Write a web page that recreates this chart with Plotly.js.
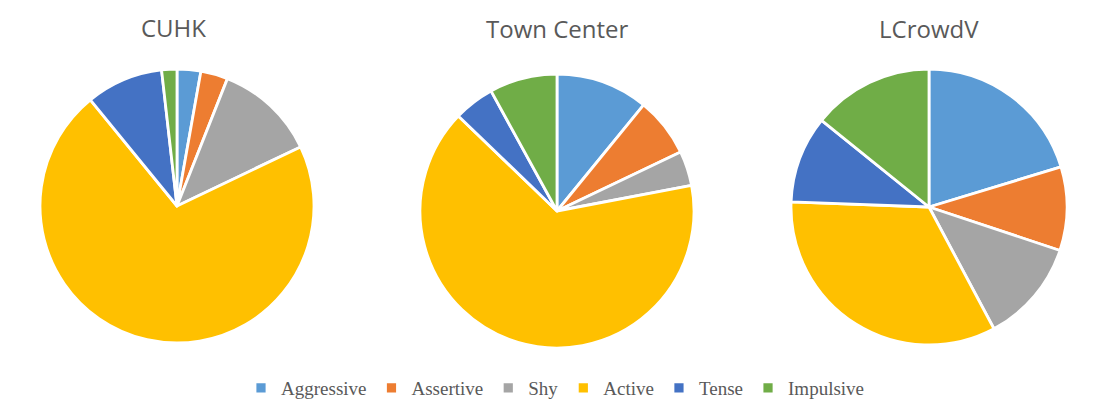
<!DOCTYPE html>
<html>
<head>
<meta charset="utf-8">
<script src="https://cdn.plot.ly/plotly-3.0.1.min.js"></script>
<style>
  html, body { margin: 0; padding: 0; background: #fff; }
  #chart { width: 1111px; height: 408px; }
</style>
</head>
<body>
<div id="chart"></div>
<script>
// 行動カテゴリ
const categories = ['Aggressive', 'Assertive', 'Shy', 'Active', 'Tense', 'Impulsive'];
const colors = ['#5B9BD5', '#ED7D31', '#A5A5A5', '#FFC000', '#4472C4', '#70AD47'];

// データセットごとの割合 (%)
const datasetNames = ['CUHK', 'Town Center', 'LCrowdV'];
const cuhkValues = [2.8, 3.2, 11.9, 71.2, 9.1, 1.8];
const townCenterValues = [10.9, 7.0, 4.1, 65.2, 4.8, 8.0];
const lcrowdvValues = [20.3, 9.8, 12.1, 33.4, 10.2, 14.2];

const W = 1111, H = 408;

/**
 * ピクセル中心と半径から domain を作る
 */
function domainFor(cx, cy, r) {
    return {
        x: [(cx - r) / W, (cx + r) / W],
        y: [(H - cy - r) / H, (H - cy + r) / H]
    };
}

const pies = [
    { values: cuhkValues, domain: domainFor(177, 206, 137), title: { x: 173, y: 28 } },
    { values: townCenterValues, domain: domainFor(557, 211, 137), title: { x: 557, y: 29 } },
    { values: lcrowdvValues, domain: domainFor(929, 207, 138), title: { x: 929, y: 29 } }
];

const data = pies.map((p, i) => ({
    type: 'pie',
    labels: categories,
    values: p.values,
    domain: p.domain,
    sort: false,
    direction: 'clockwise',
    rotation: 0,
    textinfo: 'none',
    hoverinfo: 'label+percent',
    showlegend: i === 0,
    marker: { colors: colors, line: { color: '#ffffff', width: 2.8 } }
}));

const annotations = pies.map((p, i) => ({
    text: datasetNames[i],
    x: p.title.x / W,
    y: (H - p.title.y) / H,
    xref: 'paper', yref: 'paper',
    xanchor: 'center', yanchor: 'middle',
    showarrow: false,
    font: { family: 'Open Sans, sans-serif', size: 24, color: '#595959' }
}));

const layout = {
    width: W,
    height: H,
    margin: { l: 0, r: 0, t: 0, b: 0 },
    paper_bgcolor: '#ffffff',
    annotations: annotations,
    legend: {
        orientation: 'h',
        x: 0.5, xanchor: 'center',
        y: (H - 388) / H, yanchor: 'middle',
        font: { family: 'Liberation Serif, Times New Roman, serif', size: 19, color: '#595959' },
        itemclick: false
    }
};

Plotly.newPlot('chart', data, layout, { displayModeBar: false, staticPlot: true });
</script>
</body>
</html>
